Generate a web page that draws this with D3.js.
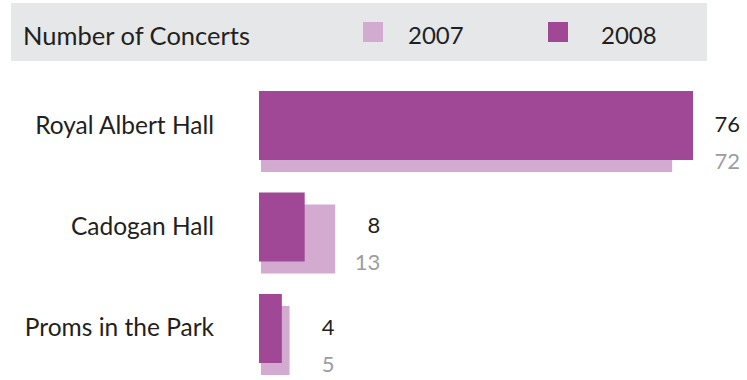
<!doctype html>
<html>
<head>
    <meta charset='utf-8' />
    <script src="https://cdn.jsdelivr.net/npm/d3@7"></script>
    <style>
        body { margin: 0; background: #fff; }
        svg text { font-family: Lato, "Open Sans", sans-serif; }
    </style>
</head>
<body>
<div id="chart"></div>

<script type="text/javascript">
    // data
    var venues = ["Royal Albert Hall", "Cadogan Hall", "Proms in the Park"];
    var years = ["2007", "2008"];
    var concerts2007 = [72, 13, 5];
    var concerts2008 = [76, 8, 4];
    var title = "Number of Concerts";

    var W = 747, H = 380;
    var colors = { "2007": "#d3abd0", "2008": "#a04896" };

    var svg = d3.select("#chart").append("svg")
        .attr("width", W).attr("height", H);

    // header band with title + legend
    svg.append("rect")
        .attr("x", 11).attr("y", 3)
        .attr("width", 696).attr("height", 58)
        .attr("fill", "#e6e7e9");

    svg.append("text")
        .attr("x", 23).attr("y", 45)
        .attr("font-size", 25.5)
        .attr("fill", "#231f20")
        .text(title);

    var legendX = d3.scaleOrdinal().domain(years).range([363, 548]);
    var legendTextX = d3.scaleOrdinal().domain(years).range([45, 53]);
    var lg = svg.selectAll(".legend").data(years).enter().append("g")
        .attr("class", "legend")
        .attr("transform", function (d) { return "translate(" + legendX(d) + ",22)"; });
    lg.append("rect")
        .attr("width", 20).attr("height", 20)
        .attr("fill", function (d) { return colors[d]; });
    lg.append("text")
        .attr("x", function (d) { return legendTextX(d); }).attr("y", 22)
        .attr("font-size", 24)
        .attr("fill", "#231f20")
        .text(function (d) { return d; });

    // scales
    var x = d3.scaleLinear().domain([0, 76]).range([259, 693]);
    var y = d3.scaleBand().domain(venues).range([91, 363]).paddingInner(0.32).paddingOuter(0);

    var rows = venues.map(function (v, i) {
        return { venue: v, v07: concerts2007[i], v08: concerts2008[i] };
    });

    var g = svg.selectAll(".row").data(rows).enter().append("g")
        .attr("class", "row")
        .attr("transform", function (d) { return "translate(0," + y(d.venue) + ")"; });

    // 2007 bar sits behind, shifted down and right
    g.append("rect")
        .attr("x", x(0) + 2)
        .attr("y", 12)
        .attr("width", function (d) { return x(d.v07) - x(0); })
        .attr("height", y.bandwidth())
        .attr("fill", colors["2007"]);

    g.append("rect")
        .attr("x", x(0))
        .attr("y", 0)
        .attr("width", function (d) { return x(d.v08) - x(0); })
        .attr("height", y.bandwidth())
        .attr("fill", colors["2008"]);

    // venue labels
    g.append("text")
        .attr("x", 214)
        .attr("y", y.bandwidth() / 2 + 8)
        .attr("text-anchor", "end")
        .attr("font-size", 24.5)
        .attr("fill", "#231f20")
        .text(function (d) { return d.venue; });

    // value labels
    function labelX(d) { return x(Math.max(d.v07, d.v08)) + 47; }
    g.append("text")
        .attr("x", labelX)
        .attr("y", 41)
        .attr("text-anchor", "end")
        .attr("font-size", 22)
        .attr("fill", "#231f20")
        .text(function (d) { return d.v08; });
    g.append("text")
        .attr("x", labelX)
        .attr("y", 78)
        .attr("text-anchor", "end")
        .attr("font-size", 22)
        .attr("fill", "#9d9d9f")
        .text(function (d) { return d.v07; });
</script>
</body>
</html>
